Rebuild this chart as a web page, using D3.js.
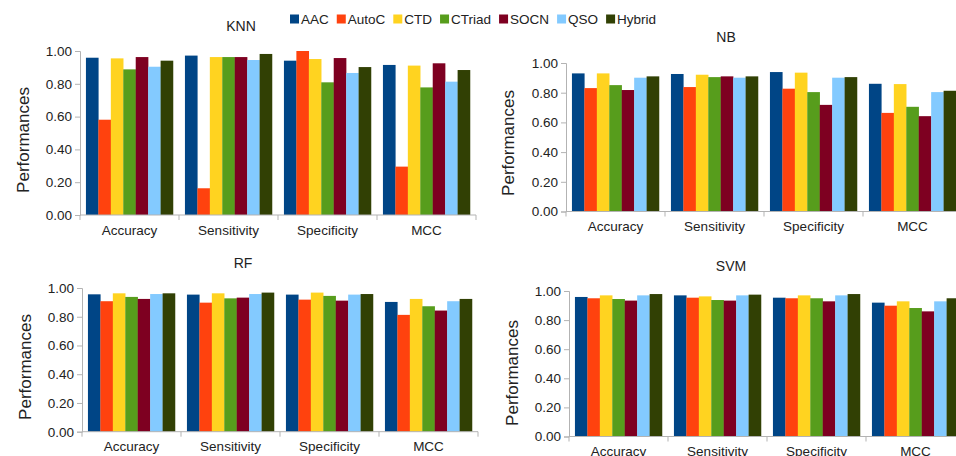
<!DOCTYPE html>
<html>
<head>
<meta charset="utf-8">
<script src="https://cdn.jsdelivr.net/npm/d3@7/dist/d3.min.js"></script>
<style>
  html, body { margin: 0; padding: 0; background: #fff; }
  svg { display: block; font-family: "Liberation Sans", Arial, sans-serif; }
</style>
</head>
<body>
<svg id="chart" width="956" height="456"></svg>
<script>
// Feature encodings (series) and evaluation metrics (categories)
const series = ["AAC", "AutoC", "CTD", "CTriad", "SOCN", "QSO", "Hybrid"];
const metrics = ["Accuracy", "Sensitivity", "Specificity", "MCC"];
const colors = ["#004586", "#ff420e", "#ffd320", "#579d1c", "#7e0021", "#83caff", "#314004"];
const yTicks = [0, 0.2, 0.4, 0.6, 0.8, 1.0];

// One row per series, one value per metric (Accuracy, Sensitivity, Specificity, MCC)
const knnValues = [
  [0.959, 0.972, 0.941, 0.915],
  [0.581, 0.163, 1.000, 0.295],
  [0.955, 0.963, 0.951, 0.911],
  [0.888, 0.963, 0.809, 0.778],
  [0.963, 0.963, 0.957, 0.925],
  [0.904, 0.945, 0.866, 0.813],
  [0.941, 0.982, 0.902, 0.884]
];
const nbValues = [
  [0.930, 0.926, 0.939, 0.860],
  [0.831, 0.838, 0.827, 0.664],
  [0.930, 0.921, 0.935, 0.858],
  [0.851, 0.905, 0.804, 0.705],
  [0.818, 0.910, 0.718, 0.642],
  [0.901, 0.901, 0.901, 0.804],
  [0.910, 0.910, 0.905, 0.813]
];
const rfValues = [
  [0.956, 0.954, 0.954, 0.903],
  [0.908, 0.898, 0.919, 0.813],
  [0.963, 0.963, 0.968, 0.924],
  [0.938, 0.928, 0.945, 0.873],
  [0.924, 0.933, 0.912, 0.843],
  [0.958, 0.958, 0.954, 0.908],
  [0.963, 0.968, 0.958, 0.924]
];
const svmValues = [
  [0.959, 0.970, 0.954, 0.920],
  [0.950, 0.954, 0.950, 0.899],
  [0.970, 0.963, 0.970, 0.929],
  [0.945, 0.938, 0.950, 0.883],
  [0.934, 0.934, 0.929, 0.860],
  [0.970, 0.970, 0.970, 0.929],
  [0.979, 0.975, 0.979, 0.950]
];

const svg = d3.select("#chart");
const axisColor = "#b3b3b3";
const textColor = "#222";

// Panel placement: left edge of plot, y of 1.00, y of 0.00, title centre
const panels = [
  { name: "KNN", values: knnValues, left: 80,  top: 51,  bottom: 215, titleX: 241, titleY: 26,  labelX: 23,  labelY: 140 },
  { name: "NB",  values: nbValues,  left: 566, top: 63,  bottom: 211.5, titleX: 726, titleY: 37, labelX: 508, labelY: 143 },
  { name: "RF",  values: rfValues,  left: 82,  top: 288, bottom: 431.7, titleX: 243, titleY: 263, labelX: 25, labelY: 367 },
  { name: "SVM", values: svmValues, left: 569, top: 291, bottom: 436.5, titleX: 731, titleY: 266, labelX: 512, labelY: 373 }
];
const plotWidth = 396;

function drawPanel(p) {
  const g = svg.append("g");

  const x0 = d3.scaleBand()
    .domain(metrics)
    .range([p.left, p.left + plotWidth])
    .paddingInner(0.12)
    .paddingOuter(0.06);

  const x1 = d3.scaleBand()
    .domain(series)
    .range([0, x0.bandwidth()])
    .padding(0);

  const y = d3.scaleLinear().domain([0, 1]).range([p.bottom, p.top]);

  // bars
  const rows = [];
  series.forEach((s, si) => {
    metrics.forEach((m, mi) => {
      rows.push({ s, m, v: p.values[si][mi], c: colors[si] });
    });
  });
  g.append("g").selectAll("rect")
    .data(rows)
    .join("rect")
    .attr("x", d => x0(d.m) + x1(d.s))
    .attr("y", d => y(d.v))
    .attr("width", x1.bandwidth() + 0.2)
    .attr("height", d => y(0) - y(d.v))
    .attr("fill", d => d.c);

  // y axis
  const yAxis = g.append("g")
    .attr("transform", `translate(${p.left},0)`)
    .call(d3.axisLeft(y).tickValues(yTicks).tickFormat(d3.format(".2f")).tickSize(5).tickPadding(3));
  yAxis.select(".domain").attr("stroke", axisColor);
  yAxis.selectAll(".tick line").attr("stroke", axisColor);
  yAxis.selectAll(".tick text")
    .attr("fill", textColor)
    .style("font-size", "13.5px")
    .style("font-family", "'Liberation Sans', Arial, sans-serif");

  // x axis: separators at band boundaries
  const xAxisG = g.append("g");
  xAxisG.append("line")
    .attr("x1", p.left).attr("x2", p.left + plotWidth)
    .attr("y1", p.bottom).attr("y2", p.bottom)
    .attr("stroke", axisColor);
  const step = x0.step();
  d3.range(metrics.length + 1).forEach(i => {
    const xx = p.left + i * step;
    xAxisG.append("line")
      .attr("x1", xx).attr("x2", xx)
      .attr("y1", p.bottom).attr("y2", p.bottom + 5)
      .attr("stroke", axisColor);
  });
  xAxisG.selectAll("text.cat")
    .data(metrics)
    .join("text")
    .attr("class", "cat")
    .attr("x", d => x0(d) + x0.bandwidth() / 2)
    .attr("y", p.bottom + 15)
    .attr("dy", "0.35em")
    .attr("text-anchor", "middle")
    .attr("fill", textColor)
    .style("font-size", "13.5px")
    .text(d => d);

  // title
  g.append("text")
    .attr("x", p.titleX).attr("y", p.titleY)
    .attr("dy", "0.35em")
    .attr("text-anchor", "middle")
    .attr("fill", textColor)
    .style("font-size", "14px")
    .text(p.name);

  // y axis label
  g.append("text")
    .attr("transform", `translate(${p.labelX},${p.labelY}) rotate(-90)`)
    .attr("dy", "0.35em")
    .attr("text-anchor", "middle")
    .attr("fill", textColor)
    .style("font-size", "17px")
    .text("Performances");
}

panels.forEach(drawPanel);

// legend
const legend = svg.append("g").attr("transform", "translate(290,19)");
let lx = 0;
series.forEach((s, i) => {
  const item = legend.append("g").attr("transform", `translate(${lx},0)`);
  item.append("rect")
    .attr("x", 0).attr("y", -4.5)
    .attr("width", 9).attr("height", 9)
    .attr("fill", colors[i]);
  const t = item.append("text")
    .attr("x", 11).attr("y", 0)
    .attr("dy", "0.35em")
    .attr("fill", textColor)
    .style("font-size", "13.5px")
    .text(s);
  lx += 11 + t.node().getComputedTextLength() + 8;
});
</script>
</body>
</html>
